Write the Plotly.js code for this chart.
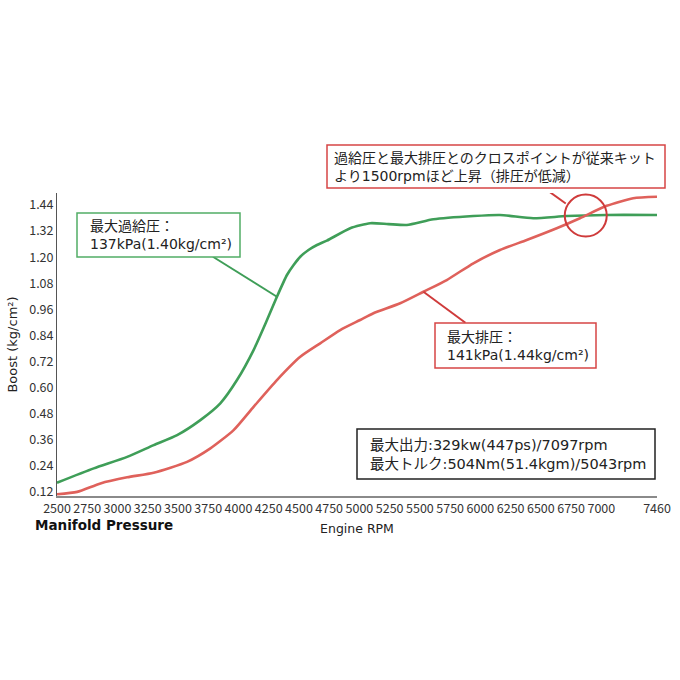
<!DOCTYPE html>
<html>
<head>
<meta charset="utf-8">
<script src="https://cdn.plot.ly/plotly-3.0.1.min.js"></script>
<style>html,body{margin:0;padding:0;background:#fff;}</style>
</head>
<body>
<div id="chart" style="width:680px;height:680px;"></div>
<script>
// ---- data ----
const rpmBoost = [2500, 2804, 3080, 3299, 3493, 3685, 3850, 3988, 4125, 4236, 4318, 4401, 4456, 4511, 4579, 4649, 4731, 4924, 5089, 5240, 5392, 5612, 5942, 6162, 6437, 6713, 7043, 7460];
const boost    = [0.163, 0.229, 0.282, 0.336, 0.382, 0.451, 0.528, 0.635, 0.773, 0.911, 1.018, 1.118, 1.164, 1.202, 1.233, 1.256, 1.276, 1.333, 1.356, 1.352, 1.348, 1.374, 1.389, 1.394, 1.379, 1.389, 1.394, 1.394];

const rpmExhaust = [2500, 2667, 2859, 3080, 3299, 3575, 3768, 3960, 4125, 4318, 4511, 4676, 4841, 5006, 5116, 5337, 5529, 5722, 5942, 6162, 6383, 6631, 6823, 7043, 7263, 7460];
const exhaust    = [0.110, 0.121, 0.160, 0.188, 0.209, 0.259, 0.321, 0.405, 0.512, 0.635, 0.742, 0.804, 0.865, 0.911, 0.942, 0.988, 1.041, 1.095, 1.172, 1.233, 1.279, 1.333, 1.379, 1.436, 1.471, 1.478];

const xTickVals = [2500, 2750, 3000, 3250, 3500, 3750, 4000, 4250, 4500, 4750, 5000, 5250, 5500, 5750, 6000, 6250, 6500, 6750, 7000, 7460];
const yTickVals = [0.12, 0.24, 0.36, 0.48, 0.60, 0.72, 0.84, 0.96, 1.08, 1.20, 1.32, 1.44];

const boostLabel   = "最大過給圧：<br>137kPa(1.40kg/cm²)";
const exhaustLabel = "最大排圧：<br>141kPa(1.44kg/cm²)";
const crossLabel   = "過給圧と最大排圧とのクロスポイントが従来キット<br>より1500rpmほど上昇（排圧が低減）";
const specLabel    = "最大出力:329kw(447ps)/7097rpm<br>最大トルク:504Nm(51.4kgm)/5043rpm";
const sectionLabel = "Manifold Pressure";

// ---- helpers ----
function interp(xs, ys, x) {
  for (let i = 0; i < xs.length - 1; i++) {
    if (x >= xs[i] && x <= xs[i + 1]) {
      const t = (x - xs[i]) / (xs[i + 1] - xs[i]);
      return ys[i] + t * (ys[i + 1] - ys[i]);
    }
  }
  return ys[ys.length - 1];
}
// crossing point of the two curves (computed from the data)
let crossRpm = 6870, crossVal = 1.39;
{
  let prev = null;
  for (let r = 6000; r <= 7460; r += 1) {
    const d = interp(rpmExhaust, exhaust, r) - interp(rpmBoost, boost, r);
    if (prev !== null && prev < 0 && d >= 0) { crossRpm = r; crossVal = interp(rpmBoost, boost, r); break; }
    prev = d;
  }
}
const gIdx = rpmBoost.indexOf(4318);
const rIdx = rpmExhaust.indexOf(5529);

const GREEN = '#3f9e58', RED = '#df615b', BOXGREEN = '#52ad66', BOXRED = '#d64545';
const TXT = 'DejaVu Sans, Noto Sans CJK JP, sans-serif';
const TICKF = 'Noto Sans CJK JP, sans-serif';

const traces = [
  { x: rpmBoost, y: boost, type: 'scatter', mode: 'lines', name: '過給圧',
    line: { color: GREEN, width: 2.6, shape: 'spline', smoothing: 0.6 }, hoverinfo: 'x+y' },
  { x: rpmExhaust, y: exhaust, type: 'scatter', mode: 'lines', name: '排圧',
    line: { color: RED, width: 2.6, shape: 'spline', smoothing: 0.6 }, hoverinfo: 'x+y' }
];

// plot area: x 57..657, y 193..496
const PL = 57, PW = 600, PT = 193, PH = 303;
const px = v => (v - PL) / PW;
const py = v => (PT + PH - v) / PH;

const boxShapes = [];
const boxTexts = [];
function box(text, left, top, w, h, color, inset, size) {
  boxShapes.push({ type: 'rect', xref: 'paper', yref: 'paper',
    x0: px(left), x1: px(left + w), y0: py(top + h), y1: py(top),
    line: { color: color, width: 1.5 }, fillcolor: '#ffffff', layer: 'above' });
  boxTexts.push({ text: text, xref: 'paper', yref: 'paper', x: px(left + inset), y: py(top + h / 2),
    xanchor: 'left', yanchor: 'middle', showarrow: false, align: 'left',
    font: { family: TXT, size: size, color: '#222' } });
}
box(boostLabel, 77, 213, 163, 44, BOXGREEN, 11, 14);
box(exhaustLabel, 435, 323, 161, 45, BOXRED, 10, 14);
box(specLabel, 357, 429, 298, 50, '#222', 11, 14.5);
box(crossLabel, 327, 145, 338, 43, BOXRED, 4.5, 14);

const layout = {
  width: 680, height: 680,
  margin: { l: PL, r: 680 - PL - PW, t: PT, b: 680 - PT - PH },
  paper_bgcolor: '#ffffff', plot_bgcolor: '#ffffff',
  showlegend: false,
  xaxis: {
    range: [2500, 7460], tickvals: xTickVals, ticktext: xTickVals.map(String), tickangle: 0,
    showline: true, linecolor: '#8a8a8a', linewidth: 2, showgrid: false, zeroline: false, ticks: '',
    tickfont: { family: TICKF, size: 12.5, color: '#333' },
    title: { text: 'Engine RPM', font: { family: 'DejaVu Sans, sans-serif', size: 12.5, color: '#222' }, standoff: 8 }
  },
  yaxis: {
    range: [0.102, 1.495], tickvals: yTickVals, tickformat: '.2f',
    showline: true, linecolor: '#555', linewidth: 1, showgrid: false, zeroline: false, ticks: '',
    tickfont: { family: TICKF, size: 12.5, color: '#333' },
    title: { text: 'Boost (kg/cm²)', font: { family: 'DejaVu Sans, sans-serif', size: 13, color: '#222' }, standoff: 8 }
  },
  shapes: [
    // cross point circle
    { type: 'circle', xref: 'x', yref: 'y', xsizemode: 'pixel', ysizemode: 'pixel',
      xanchor: crossRpm, yanchor: crossVal, x0: -21, x1: 21, y0: -21, y1: 21,
      line: { color: '#cf3b3b', width: 2 } },
    // leader: circle -> top box
    { type: 'line', xref: 'x', yref: 'y', xsizemode: 'pixel', ysizemode: 'pixel',
      xanchor: crossRpm, yanchor: crossVal, x0: -20, y0: 12, x1: -45, y1: 30,
      line: { color: '#cf3b3b', width: 2 } },
    // leader: green curve -> green box
    { type: 'line', xref: 'x', yref: 'y', xsizemode: 'pixel', ysizemode: 'pixel',
      xanchor: rpmBoost[gIdx], yanchor: boost[gIdx], x0: 0, y0: 0, x1: -64, y1: 40,
      line: { color: GREEN, width: 2 } },
    // leader: red curve -> red box
    { type: 'line', xref: 'x', yref: 'y', xsizemode: 'pixel', ysizemode: 'pixel',
      xanchor: rpmExhaust[rIdx], yanchor: exhaust[rIdx], x0: 0, y0: 0, x1: 42, y1: -31,
      line: { color: '#cf3b3b', width: 2 } }
  ].concat(boxShapes),
  annotations: boxTexts.concat([
    { text: sectionLabel, xref: 'paper', yref: 'paper', x: px(104), y: py(525),
      xanchor: 'center', yanchor: 'middle', showarrow: false,
      font: { family: 'DejaVu Sans, sans-serif', size: 13.5, color: '#111', weight: 'bold' } }
  ])
};

Plotly.newPlot('chart', traces, layout, { displayModeBar: false, staticPlot: true });
</script>
</body>
</html>
